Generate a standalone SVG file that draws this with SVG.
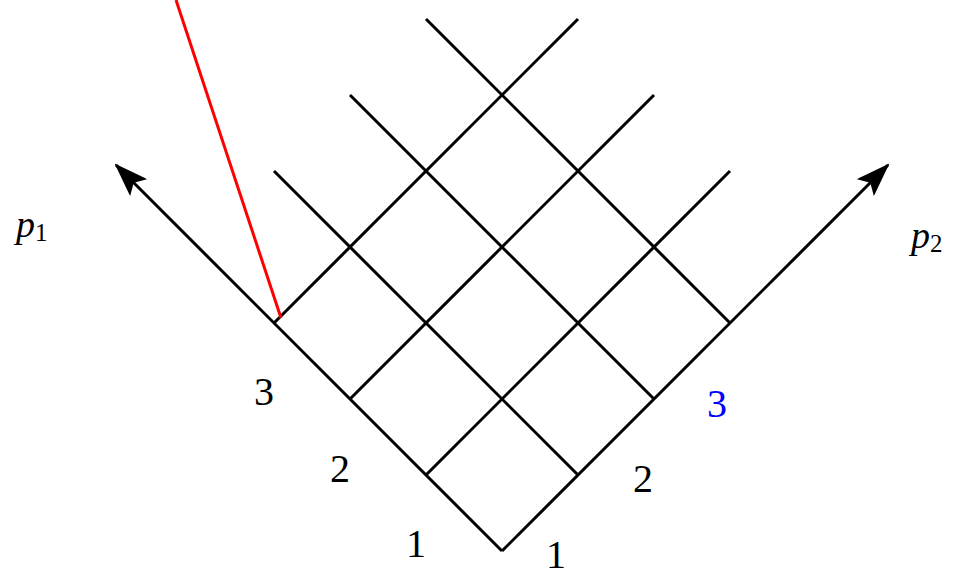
<svg xmlns="http://www.w3.org/2000/svg" width="962" height="580" viewBox="0 0 962 580">
<style>
.ln{stroke:#000;stroke-width:3;fill:none;stroke-linecap:butt}
.lbl{font-family:"Liberation Serif","Times New Roman",serif;font-size:40px;fill:#000;text-anchor:middle}
.var{font-family:"Liberation Serif","Times New Roman",serif;font-style:italic;font-size:38px;fill:#000}
.sub{font-style:normal;font-size:25px}
</style>
<defs>
<marker id="ah" viewBox="0 0 34 24" refX="32" refY="12" markerWidth="34" markerHeight="24" markerUnits="userSpaceOnUse" orient="auto">
<path d="M0,0 L34,12 L0,24 L7,12 Z" fill="#000"/>
</marker>
</defs>
<rect width="962" height="580" fill="#fff"/>
<g id="connectors">
<line id="axis-p1" class="ln" x1="502" y1="551" x2="116" y2="165" marker-end="url(#ah)"/>
<line id="axis-p2" class="ln" x1="502" y1="551" x2="888" y2="165" marker-end="url(#ah)"/>
<line class="ln" x1="578" y1="475" x2="274" y2="171"/>
<line class="ln" x1="654" y1="399" x2="350" y2="95"/>
<line class="ln" x1="730" y1="323" x2="426" y2="19"/>
<line class="ln" x1="426" y1="475" x2="730" y2="171"/>
<line class="ln" x1="350" y1="399" x2="654" y2="95"/>
<line class="ln" x1="274" y1="323" x2="578" y2="19"/>
<line id="red" x1="281" y1="318" x2="176" y2="0" stroke="#ff0000" stroke-width="3"/>
</g>
<g id="label-p1"><text class="var" x="16" y="237">p<tspan class="sub" dy="4">1</tspan></text></g>
<g id="label-p2"><text class="var" x="911" y="248">p<tspan class="sub" dy="4">2</tspan></text></g>
<g id="ticks-left">
<text class="lbl" x="264" y="405">3</text>
<text class="lbl" x="340" y="482">2</text>
<text class="lbl" x="416" y="557">1</text>
</g>
<g id="ticks-right">
<text class="lbl" x="556" y="568">1</text>
<text class="lbl" x="643" y="492">2</text>
<text class="lbl" x="717" y="417" style="fill:#0000ff">3</text>
</g>
</svg>
